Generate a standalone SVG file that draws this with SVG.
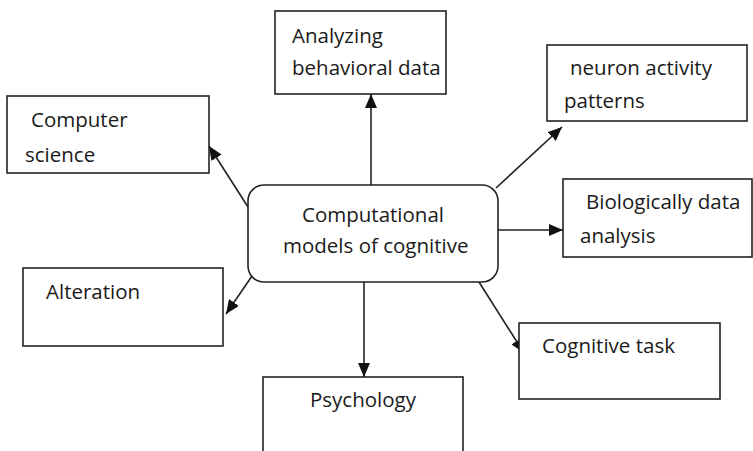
<svg xmlns="http://www.w3.org/2000/svg" width="753" height="451" viewBox="0 0 753 451">
<style>
.box{fill:#fff;stroke:#222;stroke-width:1.6}
.t{font-family:"Open Sans","Noto Sans",sans-serif;font-size:20.5px;fill:#1a1a1a}
.c{fill:none;stroke:#222;stroke-width:1.6}
</style>
<defs>
<marker id="ah" markerUnits="userSpaceOnUse" markerWidth="14" markerHeight="12" viewBox="0 0 14 12" refX="14" refY="6" orient="auto">
<path d="M0,0 L14,6 L0,12 Z" fill="#111"/>
</marker>
</defs>
<rect width="753" height="451" fill="#fff"/>
<g id="connectors">
<line class="c" x1="371" y1="185" x2="371" y2="94" marker-end="url(#ah)"/>
<line class="c" x1="496" y1="188" x2="562" y2="127" marker-end="url(#ah)"/>
<line class="c" x1="498" y1="230" x2="563" y2="230" marker-end="url(#ah)"/>
<line class="c" x1="479" y1="282" x2="524" y2="353" marker-end="url(#ah)"/>
<line class="c" x1="364" y1="282" x2="364" y2="377" marker-end="url(#ah)"/>
<line class="c" x1="252" y1="276" x2="226" y2="314" marker-end="url(#ah)"/>
<line class="c" x1="248" y1="207" x2="209" y2="146" marker-end="url(#ah)"/>
</g>
<g id="center">
<rect class="box" x="248" y="185" width="250" height="97" rx="16"/>
<text class="t" x="302" y="222">Computational</text>
<text class="t" x="283" y="253">models of cognitive</text>
</g>
<g id="analyzing">
<rect class="box" x="275" y="11" width="171" height="83"/>
<text class="t" x="292" y="43">Analyzing</text>
<text class="t" x="292" y="75">behavioral data</text>
</g>
<g id="neuron">
<rect class="box" x="547" y="45" width="200" height="76"/>
<text class="t" x="570" y="75">neuron activity</text>
<text class="t" x="564" y="108">patterns</text>
</g>
<g id="biological">
<rect class="box" x="563" y="179" width="189" height="78"/>
<text class="t" x="586" y="209">Biologically data</text>
<text class="t" x="580" y="243">analysis</text>
</g>
<g id="computer">
<rect class="box" x="7" y="96" width="202" height="77"/>
<text class="t" x="31" y="127">Computer</text>
<text class="t" x="25" y="162">science</text>
</g>
<g id="alteration">
<rect class="box" x="23" y="268" width="200" height="78"/>
<text class="t" x="46" y="299">Alteration</text>
</g>
<g id="psychology">
<rect class="box" x="263" y="377" width="200" height="80"/>
<text class="t" x="310" y="407">Psychology</text>
</g>
<g id="cognitive">
<rect class="box" x="519" y="323" width="201" height="76"/>
<text class="t" x="542" y="353">Cognitive task</text>
</g>
</svg>
